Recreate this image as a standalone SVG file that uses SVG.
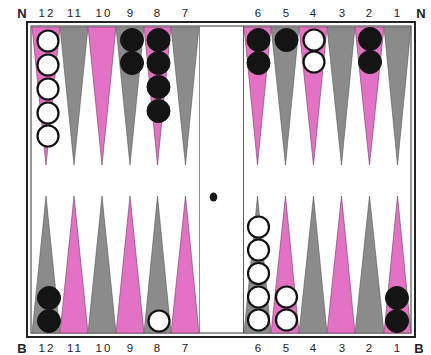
<svg xmlns="http://www.w3.org/2000/svg" width="431" height="355" viewBox="0 0 431 355">
<style>
.pk{fill:#e472c4;stroke:#6a3a5c;stroke-width:0.6}
.gy{fill:#8b8b8b;stroke:#555;stroke-width:0.6}
.w{fill:#fff;stroke:#111;stroke-width:2.2}
.b{fill:#141414;stroke:#141414;stroke-width:1}
.lb{font-family:"Liberation Sans",Arial,sans-serif;font-size:11.5px;fill:#222;text-anchor:middle}
.tw{letter-spacing:2px}
.nb{font-family:"Liberation Sans",Arial,sans-serif;font-size:13px;font-weight:bold;fill:#222;text-anchor:middle}
</style>
<rect width="431" height="355" fill="#fff"/>
<g id="board">
<rect x="27" y="22" width="388" height="315" fill="#fff" stroke="#222" stroke-width="2"/>
<rect x="31" y="26" width="380" height="307" fill="none" stroke="#333" stroke-width="1"/>
<line x1="199.5" y1="26" x2="199.5" y2="333" stroke="#777" stroke-width="0.8"/>
<line x1="243.5" y1="26" x2="243.5" y2="333" stroke="#333" stroke-width="0.8"/>
</g>
<g id="points-top">
<polygon class="pk" points="32,27 60,27 46,165"/>
<polygon class="gy" points="60,27 88,27 74,165"/>
<polygon class="pk" points="88,27 116,27 102,165"/>
<polygon class="gy" points="116,27 144,27 130,165"/>
<polygon class="pk" points="144,27 171,27 157.5,165"/>
<polygon class="gy" points="171,27 199,27 185.5,165"/>
<polygon class="pk" points="244,27 271,27 257.5,165"/>
<polygon class="gy" points="271,27 299,27 285.5,165"/>
<polygon class="pk" points="299,27 327,27 313.5,165"/>
<polygon class="gy" points="327,27 355,27 341.5,165"/>
<polygon class="pk" points="355,27 384,27 369.5,165"/>
<polygon class="gy" points="384,27 411,27 397.5,165"/>
</g>
<g id="points-bottom">
<polygon class="gy" points="32,333 60,333 46,196"/>
<polygon class="pk" points="60,333 88,333 74,196"/>
<polygon class="gy" points="88,333 116,333 102,196"/>
<polygon class="pk" points="116,333 144,333 130,196"/>
<polygon class="gy" points="144,333 171,333 157.5,196"/>
<polygon class="pk" points="171,333 199,333 185.5,196"/>
<polygon class="gy" points="244,333 271,333 257.5,196"/>
<polygon class="pk" points="271,333 299,333 285.5,196"/>
<polygon class="gy" points="299,333 327,333 313.5,196"/>
<polygon class="pk" points="327,333 355,333 341.5,196"/>
<polygon class="gy" points="355,333 384,333 369.5,196"/>
<polygon class="pk" points="384,333 411,333 397.5,196"/>
</g>
<g id="checkers">
<circle class="w" cx="48" cy="41" r="10.5"/>
<circle class="w" cx="48" cy="65" r="10.5"/>
<circle class="w" cx="48" cy="89" r="10.5"/>
<circle class="w" cx="48" cy="113" r="10.5"/>
<circle class="w" cx="48" cy="136" r="10.5"/>
<circle class="b" cx="132" cy="40" r="11.5"/>
<circle class="b" cx="132" cy="63" r="11.5"/>
<circle class="b" cx="158.5" cy="40" r="11.5"/>
<circle class="b" cx="158.5" cy="63" r="11.5"/>
<circle class="b" cx="158.5" cy="87" r="11.5"/>
<circle class="b" cx="158.5" cy="111" r="11.5"/>
<circle class="b" cx="258.5" cy="40" r="11.5"/>
<circle class="b" cx="258.5" cy="63" r="11.5"/>
<circle class="b" cx="286.5" cy="40" r="11.5"/>
<circle class="w" cx="314" cy="40" r="10.5"/>
<circle class="w" cx="314" cy="62" r="10.5"/>
<circle class="b" cx="370" cy="39" r="11.5"/>
<circle class="b" cx="370" cy="62" r="11.5"/>
<circle class="b" cx="49" cy="298" r="11.5"/>
<circle class="b" cx="49" cy="321" r="11.5"/>
<circle class="w" cx="159" cy="321" r="10.5"/>
<circle class="w" cx="258.5" cy="227" r="10.5"/>
<circle class="w" cx="258.5" cy="250" r="10.5"/>
<circle class="w" cx="258.5" cy="273.5" r="10.5"/>
<circle class="w" cx="258.5" cy="297" r="10.5"/>
<circle class="w" cx="258.5" cy="320" r="10.5"/>
<circle class="w" cx="286.5" cy="297" r="10.5"/>
<circle class="w" cx="286.5" cy="320" r="10.5"/>
<circle class="b" cx="397" cy="298" r="11.5"/>
<circle class="b" cx="397" cy="321" r="11.5"/>
<ellipse cx="213.5" cy="197" rx="3.8" ry="4.5" fill="#1a1a1a"/>
</g>
<g id="labels">
<text class="nb" x="22" y="18">N</text>
<text class="lb tw" x="47" y="17">12</text>
<text class="lb tw" x="75" y="17">11</text>
<text class="lb tw" x="104" y="17">10</text>
<text class="lb" x="130" y="17">9</text>
<text class="lb" x="157" y="17">8</text>
<text class="lb" x="185" y="17">7</text>
<text class="lb" x="258" y="17">6</text>
<text class="lb" x="286" y="17">5</text>
<text class="lb" x="313" y="17">4</text>
<text class="lb" x="342" y="17">3</text>
<text class="lb" x="369" y="17">2</text>
<text class="lb" x="397" y="17">1</text>
<text class="nb" x="421" y="18">N</text>
<text class="nb" x="22" y="353">B</text>
<text class="lb tw" x="47" y="352">12</text>
<text class="lb tw" x="75" y="352">11</text>
<text class="lb tw" x="104" y="352">10</text>
<text class="lb" x="130" y="352">9</text>
<text class="lb" x="157" y="352">8</text>
<text class="lb" x="185" y="352">7</text>
<text class="lb" x="258" y="352">6</text>
<text class="lb" x="286" y="352">5</text>
<text class="lb" x="313" y="352">4</text>
<text class="lb" x="342" y="352">3</text>
<text class="lb" x="369" y="352">2</text>
<text class="lb" x="397" y="352">1</text>
<text class="nb" x="419" y="353">B</text>
</g>
</svg>
